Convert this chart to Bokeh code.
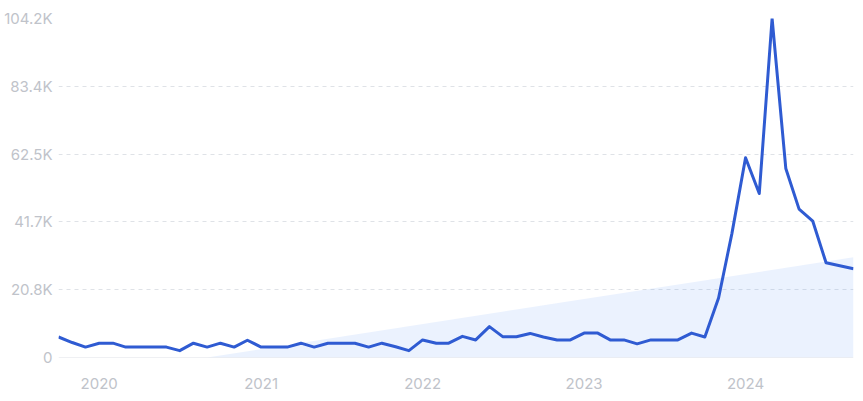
import pandas as pd
from bokeh.plotting import figure
from bokeh.models import Range1d, FixedTicker, DatetimeTickFormatter, Span, ColumnDataSource
from bokeh.embed import file_html
from bokeh.resources import INLINE

# Monthly values (in K), Oct 2019 .. Sep 2024
months = pd.date_range("2019-10-01", periods=60, freq="MS")
values_k = [
    6.3, 4.6, 3.2,
    4.4, 4.4, 3.2, 3.2, 3.2, 3.2, 2.1, 4.4, 3.2, 4.4, 3.2, 5.3,
    3.2, 3.2, 3.2, 4.4, 3.2, 4.4, 4.4, 4.4, 3.2, 4.4, 3.3, 2.1,
    5.4, 4.4, 4.4, 6.5, 5.4, 9.5, 6.4, 6.4, 7.4, 6.3, 5.4, 5.4,
    7.5, 7.5, 5.4, 5.4, 4.2, 5.4, 5.4, 5.4, 7.5, 6.3, 18.3, 38.0,
    61.4, 50.4, 104.2, 58.1, 45.6, 41.9, 29.1, 28.2, 27.3,
]
values = [v * 1000 for v in values_k]

# Trend shading (start / end)
trend_dates = pd.to_datetime(["2020-09-01", "2024-09-01"])
trend_values = [0, 30800]

# Axis ticks
y_ticks = [0, 20840, 41680, 62520, 83360, 104200]
y_tick_labels = ["0", "20.8K", "41.7K", "62.5K", "83.4K", "104.2K"]
year_ticks = pd.to_datetime(["2020-01-01", "2021-01-01", "2022-01-01", "2023-01-01", "2024-01-01"])

LABEL_COLOR = "#c0c3ca"
GRID_COLOR = "#dfe2e7"
LINE_COLOR = "#2f5bd2"
FONT = "Inter"

p = figure(
    width=855, height=393,
    x_axis_type="datetime",
    output_backend="svg", toolbar_location=None,
    x_range=Range1d(months[0], months[-1]),
    y_range=Range1d(0, 104200),
    min_border_left=58, min_border_right=2, min_border_top=18, min_border_bottom=36,
)
p.outline_line_color = None
p.background_fill_color = "white"
p.border_fill_color = "white"

# Trend area
p.varea(x=trend_dates, y1=[0, 0], y2=trend_values, fill_color="#3b82f6", fill_alpha=0.1)

# Main line
src = ColumnDataSource(dict(x=months, y=values))
p.line("x", "y", source=src, line_color=LINE_COLOR, line_width=3, line_join="round")

# Grid
p.xgrid.grid_line_color = None
p.ygrid.ticker = FixedTicker(ticks=y_ticks[1:])
p.ygrid.grid_line_color = GRID_COLOR
p.ygrid.grid_line_dash = "4 4"
p.ygrid.grid_line_width = 1
p.add_layout(Span(location=0, dimension="width", line_color=GRID_COLOR, line_width=1, level="underlay"))

# Y axis
p.yaxis.ticker = FixedTicker(ticks=y_ticks)
p.yaxis.major_label_overrides = {t: l for t, l in zip(y_ticks, y_tick_labels)}
p.yaxis.axis_line_color = None
p.yaxis.major_tick_line_color = None
p.yaxis.minor_tick_line_color = None
p.yaxis.major_tick_out = 0
p.yaxis.major_label_standoff = 6
p.yaxis.major_label_text_color = LABEL_COLOR
p.yaxis.major_label_text_font = FONT
p.yaxis.major_label_text_font_size = "15px"

# X axis
p.xaxis.ticker = FixedTicker(ticks=[t.value // 10**6 for t in year_ticks])
p.xaxis.formatter = DatetimeTickFormatter(years="%Y", months="%Y", days="%Y", hours="%Y",
                                          hourmin="%Y", minutes="%Y", minsec="%Y",
                                          seconds="%Y", milliseconds="%Y", microseconds="%Y")
p.xaxis.axis_line_color = None
p.xaxis.major_tick_line_color = None
p.xaxis.minor_tick_line_color = None
p.xaxis.major_tick_out = 0
p.xaxis.major_label_standoff = 20
p.xaxis.major_label_text_color = LABEL_COLOR
p.xaxis.major_label_text_font = FONT
p.xaxis.major_label_text_font_size = "15px"

open("out.html", "w").write(file_html(p, INLINE))
